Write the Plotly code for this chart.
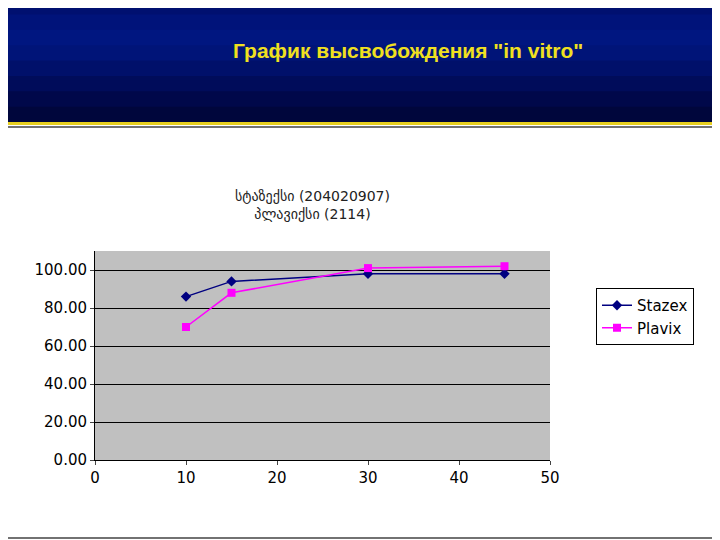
import plotly.graph_objects as go

time = [10, 15, 30, 45]
stazex = [86, 94, 98, 98]
plavix = [70, 88, 101, 102]
y_ticks = [0, 20, 40, 60, 80, 100]
y_labels = ["0.00", "20.00", "40.00", "60.00", "80.00", "100.00"]

W, H = 720, 540
OFF = 8
L, R, T, B = 95 - OFF, 550 - OFF, 251 - OFF, 460 - OFF
PW, PH = R - L, B - T

def px(x):
    return (x - OFF - L) / PW

def py(y):
    return (B - (y - OFF)) / PH

fig = go.Figure()
fig.add_trace(go.Scatter(x=time, y=stazex, name="Stazex", mode="lines+markers",
                         line=dict(color="#000080", width=1.5),
                         marker=dict(symbol="diamond", size=8, color="#000080")))
fig.add_trace(go.Scatter(x=time, y=plavix, name="Plavix", mode="lines+markers",
                         line=dict(color="#ff00ff", width=1.5),
                         marker=dict(symbol="square", size=8, color="#ff00ff")))

shapes = []
cols = ["#001070", "#00137a", "#001680", "#001478", "#00106a", "#000c5a", "#00084a", "#00063c"]
n = len(cols)
for i, c in enumerate(cols):
    shapes.append(dict(type="rect", xref="paper", yref="paper", layer="below",
                       x0=px(0), x1=px(730),
                       y0=py((i + 1) * 123 / n + 1), y1=py(i * 123 / n - 1 if i else -10),
                       fillcolor=c, line_width=0))
shapes.append(dict(type="rect", xref="paper", yref="paper", layer="below",
                   x0=px(0), x1=px(730), y0=py(125), y1=py(122),
                   fillcolor="#e8d020", line_width=0))
shapes.append(dict(type="rect", xref="paper", yref="paper", layer="below",
                   x0=px(3), x1=px(718), y0=py(538), y1=py(127),
                   fillcolor="white", line=dict(color="#444", width=1.5)))
shapes.append(dict(type="rect", xref="paper", yref="paper", layer="below",
                   x0=0, x1=1, y0=0, y1=1, fillcolor="#c0c0c0", line_width=0))

fig.update_layout(
    width=W, height=H, margin=dict(l=L, r=W - R, t=T, b=H - B),
    paper_bgcolor="white", plot_bgcolor="#c0c0c0",
    font=dict(family="DejaVu Sans", color="black", size=14),
    shapes=shapes, showlegend=True,
    legend=dict(x=px(596), y=py(288), xanchor="left", yanchor="top",
                bgcolor="white", bordercolor="black", borderwidth=1,
                font=dict(size=15)),
    xaxis=dict(range=[0, 50], dtick=10, showgrid=False, zeroline=False,
               showline=True, linecolor="black", ticks="outside", ticklen=4,
               tickfont=dict(size=15)),
    yaxis=dict(range=[0, 110], tickvals=y_ticks, ticktext=y_labels,
               showgrid=True, gridcolor="black", gridwidth=1, zeroline=False,
               showline=True, linecolor="black", ticks="outside", ticklen=4,
               tickfont=dict(size=15)),
    annotations=[
        dict(text='<b>График высвобождения "in vitro"</b>', xref="paper", yref="paper",
             x=px(408), y=py(50), xanchor="center", yanchor="middle", showarrow=False,
             font=dict(size=21, color="#f0e020", family="Liberation Sans")),
        dict(text="სტაზექსი (204020907)<br>პლავიქსი (2114)", xref="paper", yref="paper",
             x=px(312), y=py(205), xanchor="center", yanchor="middle", showarrow=False,
             font=dict(size=14, color="#222")),
    ],
)
fig.write_html("out.html")
